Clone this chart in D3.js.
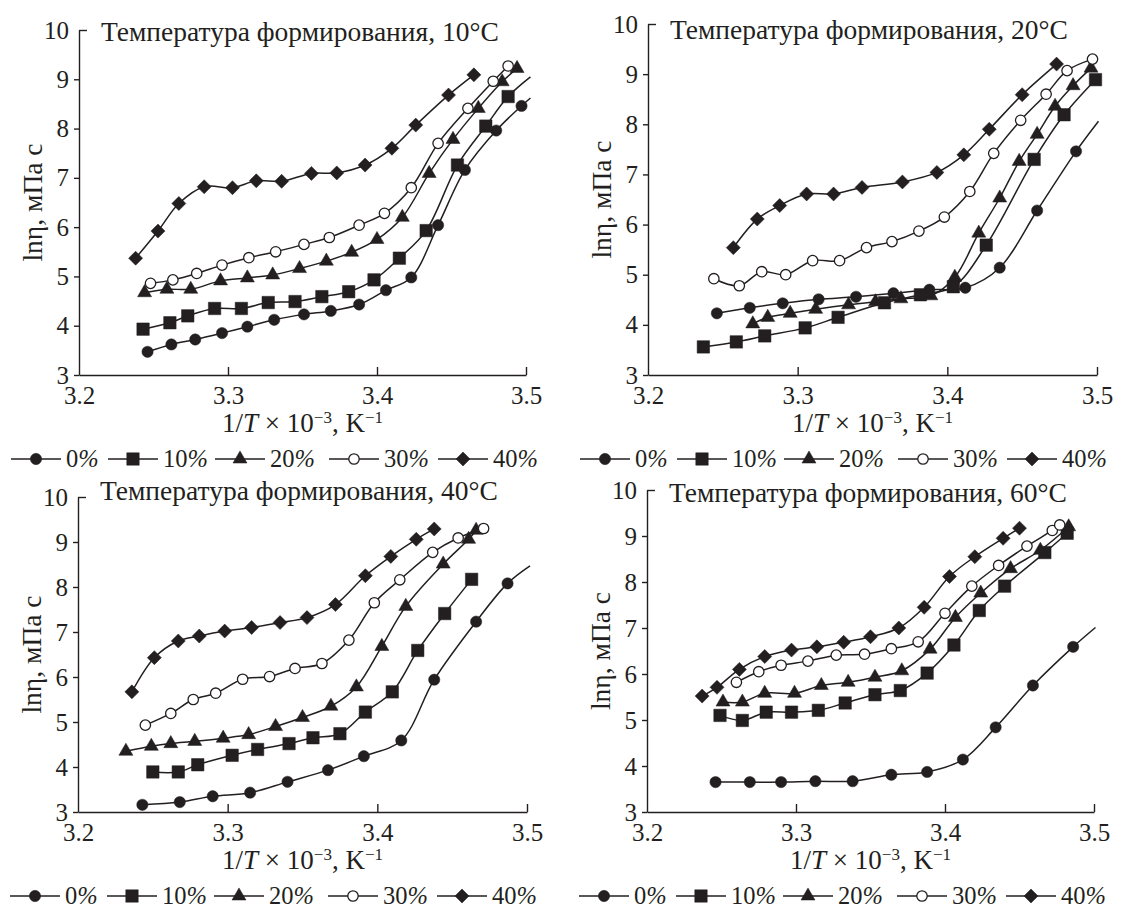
<!DOCTYPE html>
<html>
<head>
<meta charset="utf-8">
<title>lnη от 1/T</title>
<script src="https://d3js.org/d3.v7.min.js"></script>
<style>
  body { margin: 0; background: #fff; }
  text { font-family: "Liberation Serif", "DejaVu Serif", serif; fill: #231f20; }
</style>
</head>
<body>
<div id="chart"></div>
<script>
// series (share of additive), same in every panel
const seriesNames = ["0%", "10%", "20%", "30%", "40%"];
const shapes = ["circle", "square", "triangle", "open", "diamond"];
const formTemps = ["10", "20", "40", "60"];
const xTicks = [3.2, 3.3, 3.4, 3.5];
const yTicks = [3, 4, 5, 6, 7, 8, 9, 10];

// points [1/T x 10^-3, ln eta], one array per series, per panel
const t10 = [
  [[3.246,3.47],[3.262,3.62],[3.278,3.72],[3.296,3.85],[3.313,3.98],[3.331,4.12],[3.351,4.23],[3.369,4.30],[3.388,4.43],[3.406,4.72],[3.423,4.98],[3.441,6.04],[3.459,7.16],[3.480,7.96],[3.497,8.46]],
  [[3.243,3.93],[3.261,4.06],[3.273,4.20],[3.291,4.35],[3.309,4.35],[3.327,4.47],[3.345,4.49],[3.363,4.59],[3.381,4.69],[3.398,4.93],[3.415,5.37],[3.433,5.93],[3.454,7.26],[3.473,8.05],[3.488,8.65]],
  [[3.244,4.67],[3.259,4.74],[3.275,4.74],[3.295,4.91],[3.313,4.97],[3.330,5.03],[3.348,5.16],[3.366,5.31],[3.383,5.49],[3.400,5.75],[3.417,6.20],[3.435,7.09],[3.451,7.78],[3.468,8.41],[3.484,8.95],[3.494,9.22]],
  [[3.248,4.86],[3.263,4.93],[3.279,5.06],[3.296,5.23],[3.314,5.38],[3.332,5.50],[3.351,5.65],[3.368,5.79],[3.388,6.04],[3.405,6.28],[3.423,6.80],[3.441,7.70],[3.461,8.41],[3.478,8.96],[3.488,9.27]],
  [[3.238,5.37],[3.253,5.92],[3.267,6.48],[3.284,6.82],[3.303,6.80],[3.319,6.94],[3.336,6.93],[3.356,7.09],[3.373,7.10],[3.392,7.26],[3.410,7.60],[3.426,8.07],[3.448,8.68],[3.465,9.09]]
];
const t20 = [
  [[3.246,4.23],[3.268,4.34],[3.290,4.43],[3.314,4.51],[3.339,4.56],[3.364,4.63],[3.388,4.70],[3.412,4.74],[3.435,5.14],[3.460,6.28],[3.486,7.46]],
  [[3.237,3.56],[3.259,3.66],[3.278,3.78],[3.305,3.94],[3.327,4.15],[3.358,4.44],[3.382,4.60],[3.404,4.76],[3.426,5.59],[3.458,7.30],[3.478,8.19],[3.499,8.89]],
  [[3.270,4.02],[3.280,4.15],[3.295,4.23],[3.312,4.31],[3.334,4.40],[3.352,4.46],[3.369,4.52],[3.389,4.58],[3.405,4.95],[3.421,5.83],[3.435,6.53],[3.448,7.26],[3.460,7.80],[3.472,8.36],[3.484,8.77],[3.496,9.12]],
  [[3.244,4.92],[3.261,4.78],[3.276,5.06],[3.292,5.00],[3.310,5.28],[3.328,5.28],[3.346,5.54],[3.363,5.66],[3.381,5.87],[3.398,6.15],[3.415,6.66],[3.431,7.42],[3.449,8.08],[3.466,8.60],[3.480,9.07],[3.497,9.30]],
  [[3.257,5.54],[3.273,6.11],[3.288,6.38],[3.306,6.61],[3.324,6.61],[3.343,6.74],[3.370,6.85],[3.393,7.04],[3.411,7.39],[3.428,7.90],[3.450,8.59],[3.473,9.20]]
];
const t40 = [
  [[3.243,3.16],[3.268,3.22],[3.290,3.35],[3.315,3.43],[3.340,3.67],[3.367,3.93],[3.391,4.24],[3.416,4.59],[3.438,5.94],[3.466,7.23],[3.487,8.08]],
  [[3.250,3.89],[3.267,3.89],[3.280,4.05],[3.303,4.26],[3.320,4.39],[3.341,4.52],[3.357,4.65],[3.375,4.74],[3.392,5.22],[3.410,5.67],[3.427,6.59],[3.445,7.41],[3.463,8.17]],
  [[3.232,4.35],[3.249,4.46],[3.262,4.52],[3.278,4.57],[3.297,4.64],[3.314,4.72],[3.332,4.90],[3.350,5.10],[3.369,5.35],[3.386,5.78],[3.403,6.68],[3.419,7.57],[3.444,8.51],[3.461,9.06],[3.466,9.26]],
  [[3.245,4.93],[3.262,5.19],[3.277,5.50],[3.292,5.64],[3.310,5.95],[3.328,6.01],[3.345,6.19],[3.363,6.30],[3.381,6.82],[3.398,7.65],[3.415,8.16],[3.437,8.77],[3.454,9.09],[3.471,9.30]],
  [[3.236,5.67],[3.251,6.43],[3.267,6.80],[3.281,6.91],[3.298,7.02],[3.316,7.10],[3.335,7.21],[3.353,7.32],[3.372,7.61],[3.392,8.25],[3.409,8.68],[3.426,9.06],[3.438,9.29]]
];
const t60 = [
  [[3.246,3.65],[3.269,3.65],[3.290,3.65],[3.313,3.67],[3.338,3.67],[3.364,3.81],[3.388,3.87],[3.412,4.14],[3.434,4.84],[3.459,5.75],[3.486,6.59]],
  [[3.249,5.10],[3.264,4.99],[3.280,5.17],[3.297,5.17],[3.315,5.21],[3.333,5.37],[3.353,5.55],[3.370,5.64],[3.388,6.02],[3.406,6.63],[3.423,7.38],[3.440,7.91],[3.467,8.64],[3.482,9.06]],
  [[3.251,5.39],[3.264,5.39],[3.279,5.58],[3.299,5.58],[3.317,5.75],[3.335,5.82],[3.353,5.93],[3.371,6.07],[3.390,6.54],[3.407,7.23],[3.424,7.76],[3.444,8.29],[3.464,8.69],[3.483,9.20]],
  [[3.260,5.82],[3.275,6.05],[3.290,6.19],[3.308,6.28],[3.327,6.41],[3.346,6.43],[3.364,6.55],[3.382,6.70],[3.400,7.32],[3.418,7.91],[3.436,8.36],[3.455,8.78],[3.472,9.12],[3.477,9.24]],
  [[3.237,5.52],[3.247,5.71],[3.262,6.10],[3.279,6.38],[3.297,6.52],[3.314,6.59],[3.332,6.69],[3.350,6.81],[3.369,7.00],[3.386,7.45],[3.403,8.12],[3.420,8.55],[3.439,8.95],[3.450,9.17]]
];
// where a curve runs on past its last marker (no marker drawn there)
const t10Tail = [[3.503,8.62],[3.503,9.05],null,null,null];
const t20Tail = [[3.501,8.06],null,null,null,null];
const t40Tail = [[3.502,8.47],null,null,null,null];
const t60Tail = [[3.501,7.01],null,null,null,null];

// panel placement on the page
const layout = [
  {data: t10, tail: t10Tail, x0: 79, x1: 526, yTop: 30, yBot: 375, titleY: 41},
  {data: t20, tail: t20Tail, x0: 648, x1: 1097, yTop: 24, yBot: 375, titleY: 39},
  {data: t40, tail: t40Tail, x0: 78, x1: 527, yTop: 497, yBot: 812, titleY: 500},
  {data: t60, tail: t60Tail, x0: 647, x1: 1094, yTop: 490, yBot: 812, titleY: 502}
];
// legend line starts, relative to the first one
const legendSteps = [0, 97, 204, 318, 427];

const W = 1121, H = 908;
const svg = d3.select("#chart").append("svg")
  .attr("width", W).attr("height", H);
svg.append("rect").attr("width", W).attr("height", H).attr("fill", "#fff");

const ink = "#231f20";

function marker(sel, shape) {
  let sym, size, rot = 0;
  if (shape === "circle") { sym = d3.symbolCircle; size = 100; }
  else if (shape === "open") { sym = d3.symbolCircle; size = 85; }
  else if (shape === "square") { sym = d3.symbolSquare; size = 155; }
  else if (shape === "triangle") { sym = d3.symbolTriangle; size = 85; }
  else { sym = d3.symbolSquare; size = 98; rot = 45; }
  sel.append("path")
    .attr("d", d3.symbol().type(sym).size(size)())
    .attr("transform", rot ? "rotate(" + rot + ")" : null)
    .attr("fill", shape === "open" ? "#fff" : ink)
    .attr("stroke", ink)
    .attr("stroke-width", shape === "open" ? 1.3 : 0.5);
}

layout.forEach(function(p, i) {
  const g = svg.append("g");
  const x = d3.scaleLinear().domain([3.2, 3.5]).range([p.x0, p.x1]);
  const y = d3.scaleLinear().domain([3, 10]).range([p.yBot, p.yTop]);

  // y axis
  const ya = g.append("g")
    .attr("transform", "translate(" + p.x0 + ",0)")
    .call(d3.axisLeft(y).tickValues(yTicks).tickFormat(d3.format("d"))
      .tickSize(5).tickSizeOuter(0).tickPadding(5));
  ya.selectAll(".tick").filter(function(d) { return d === 10; })
    .select("line").attr("x2", 8);

  // x axis, ticks pointing inward
  const xa = g.append("g")
    .attr("transform", "translate(0," + p.yBot + ")")
    .call(d3.axisBottom(x).tickValues(xTicks).tickFormat(d3.format(".1f"))
      .tickSize(-8).tickSizeOuter(0).tickPadding(11));
  xa.selectAll(".tick").filter(function(d) { return d === 3.2; }).select("line").remove();

  g.selectAll(".domain, .tick line").attr("stroke", ink).attr("stroke-width", 1.4);
  g.selectAll(".tick text").attr("font-size", 25).attr("fill", ink);

  // title
  g.append("text")
    .attr("x", p.x0 + 22).attr("y", p.titleY)
    .attr("font-size", 27.5)
    .text("Температура формирования, " + formTemps[i] + "°C");

  // axis titles
  g.append("text")
    .attr("transform", "translate(" + (p.x0 - 37) + "," + ((p.yTop + p.yBot) / 2) + ") rotate(-90)")
    .attr("text-anchor", "middle")
    .attr("font-size", 27.5)
    .text("lnη, мПа с");

  const xt = g.append("text")
    .attr("x", (p.x0 + p.x1) / 2).attr("y", p.yBot + 57)
    .attr("text-anchor", "middle")
    .attr("font-size", 27);
  xt.append("tspan").text("1/");
  xt.append("tspan").attr("font-style", "italic").text("T");
  xt.append("tspan").text(" × 10");
  xt.append("tspan").attr("font-size", 17).attr("dy", -9).text("−3");
  xt.append("tspan").attr("dy", 9).text(", K");
  xt.append("tspan").attr("font-size", 17).attr("dy", -9).text("−1");

  // curves
  const line = d3.line()
    .x(function(d) { return x(d[0]); })
    .y(function(d) { return y(d[1]); })
    .curve(d3.curveCatmullRom.alpha(0.5));

  p.data.forEach(function(pts, s) {
    const path = p.tail[s] ? pts.concat([p.tail[s]]) : pts;
    g.append("path")
      .attr("d", line(path))
      .attr("fill", "none")
      .attr("stroke", ink)
      .attr("stroke-width", 1.5);
  });
  p.data.forEach(function(pts, s) {
    g.selectAll(null)
      .data(pts)
      .enter()
      .append("g")
      .attr("transform", function(d) { return "translate(" + x(d[0]) + "," + y(d[1]) + ")"; })
      .each(function() { marker(d3.select(this), shapes[s]); });
  });

  // legend under the panel
  const lg = g.append("g");
  const cy = p.yBot + 84;
  const lx0 = p.x0 - 68;
  seriesNames.forEach(function(name, s) {
    const lx = lx0 + legendSteps[s];
    lg.append("line")
      .attr("x1", lx).attr("x2", lx + 50)
      .attr("y1", cy).attr("y2", cy)
      .attr("stroke", ink).attr("stroke-width", 1.5);
    const m = lg.append("g").attr("transform", "translate(" + (lx + 25) + "," + cy + ")");
    marker(m, shapes[s]);
    const t = lg.append("text")
      .attr("x", lx + 55).attr("y", cy + 8)
      .attr("font-size", 24.5);
    t.append("tspan").text(name.replace("%", ""));
    t.append("tspan").attr("font-style", "italic").text("%");
  });
});
</script>
</body>
</html>
